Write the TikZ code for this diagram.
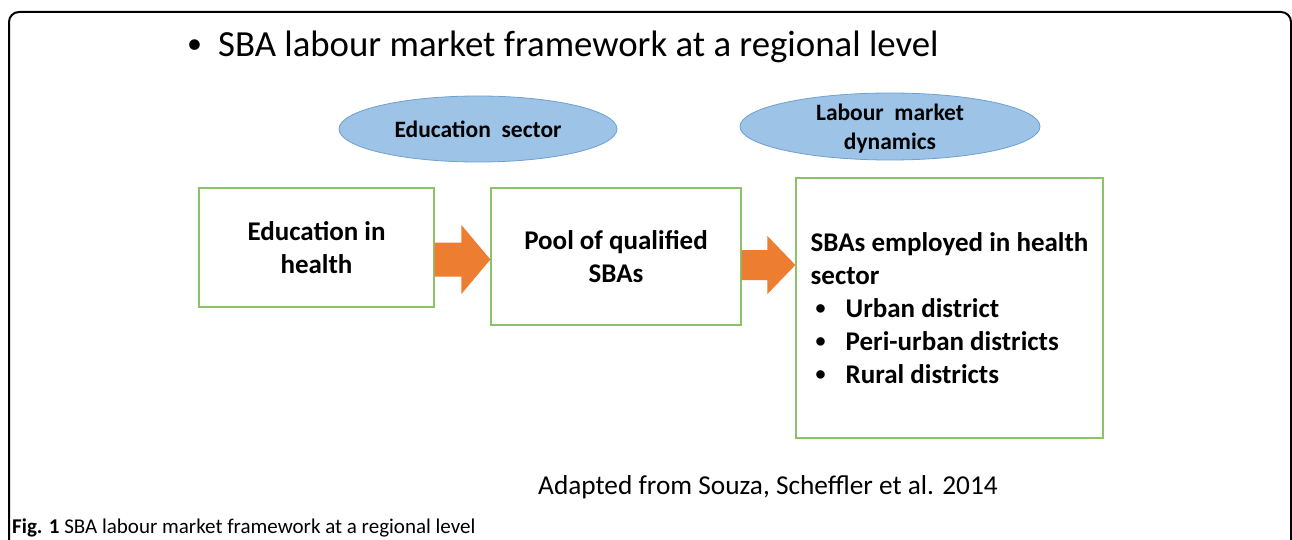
\documentclass[tikz,border=0pt]{standalone}
\usepackage{fontspec}
\setmainfont{Carlito}
\usetikzlibrary{shapes.geometric,calc}
\definecolor{ellfill}{RGB}{157,195,230}
\definecolor{elldraw}{RGB}{110,160,210}
\definecolor{boxgreen}{RGB}{140,195,105}
\definecolor{arroworange}{RGB}{237,125,49}
\newcommand{\listdot}{\makebox[35pt][l]{\hspace{5pt}\raisebox{2.5pt}{\fontsize{20}{20}\selectfont •}}}
\begin{document}
\begin{tikzpicture}[x=1pt,y=-1pt,
  stagebox/.style={draw=boxgreen,line width=1.2pt,fill=white,align=center,inner sep=0pt,
    font=\fontsize{27}{33}\selectfont\bfseries},
  sectorell/.style={ellipse,draw=elldraw,line width=0.8pt,fill=ellfill,inner sep=0pt,align=center,
    font=\fontsize{23.5}{29}\selectfont\bfseries},
  elltext/.style={inner sep=0pt,align=center,font=\fontsize{23.5}{29}\selectfont\bfseries},
  flowarrow/.style={fill=arroworange}
]
\useasboundingbox (0,0) rectangle (1292,540);
\fill[white] (0,0) rectangle (1292,540);
% frame
\draw[line width=2pt,rounded corners=10pt] (9,560) -- (9,12) -- (1291,12) -- (1291,560);
% title
\node[anchor=base west,inner sep=0pt,font=\fontsize{36.8}{43}\selectfont] (title) at (187,57)
  {\makebox[31pt][l]{\raisebox{3pt}{\fontsize{30}{30}\selectfont •}}SBA labour market framework at a regional level};
% ellipses
\node[sectorell,minimum width=278pt,minimum height=66pt] (e1) at (478,129) {Education\ \ sector};
\node[sectorell,minimum width=300pt,minimum height=67pt] (e2) at (890,126.5) {};
\node[elltext] (e2t) at ($(e2.center)+(0,2)$) {Labour\ \ market\\dynamics};
% boxes
\node[stagebox,minimum width=235pt,minimum height=119pt] (b1) at (316.5,247.5) {Education in\\health};
\node[stagebox,minimum width=250pt,minimum height=137pt] (b2) at (616,256.5) {Pool of qualified\\SBAs};
\node[stagebox,align=left,minimum width=307pt,minimum height=260pt] (b3) at (949.5,308)
  {SBAs employed in health\\sector\\
   \listdot Urban district\\
   \listdot Peri-urban districts\\
   \listdot Rural districts};
% arrows
\coordinate (a1s) at ($(b1.east)+(0,12)$);
\coordinate (a1t) at ($(b2.west)+(0,3)$);
\fill[flowarrow] ($(a1s)+(0,-17)$) -- ($(a1t)+(-29,-17)$) -- ($(a1t)+(-29,-34.5)$) -- (a1t)
  -- ($(a1t)+(-29,34.5)$) -- ($(a1t)+(-29,17)$) -- ($(a1s)+(0,17)$) -- cycle;
\coordinate (a2s) at ($(b2.east)+(0,8.5)$);
\coordinate (a2t) at ($(b3.west)+(0,-43)$);
\fill[flowarrow] ($(a2s)+(0,-15)$) -- ($(a2t)+(-28,-15)$) -- ($(a2t)+(-28,-29)$) -- (a2t)
  -- ($(a2t)+(-28,29)$) -- ($(a2t)+(-28,15)$) -- ($(a2s)+(0,15)$) -- cycle;
% source
\node[anchor=base west,inner sep=0pt,font=\fontsize{27.3}{32}\selectfont] (src) at (538,494)
  {Adapted from Souza, Scheffler et al. 2014};
% caption
\node[anchor=base west,inner sep=0pt,font=\fontsize{21}{25}\selectfont] (cap) at (12,533)
  {\textbf{Fig. 1} SBA labour market framework at a regional level};
\end{tikzpicture}
\end{document}
